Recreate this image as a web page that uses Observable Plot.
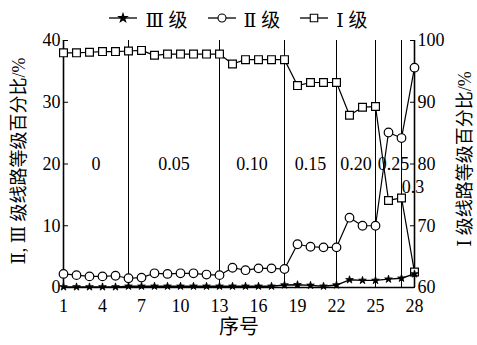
<!DOCTYPE html>
<html><head><meta charset="utf-8">
<script src="https://cdn.jsdelivr.net/npm/d3@7"></script>
<script src="https://cdn.jsdelivr.net/npm/@observablehq/plot@0.6"></script>
<style>
body{margin:0;background:#fff;}
#wrap{position:relative;width:477px;height:345px;font-family:"Liberation Serif","Times New Roman",Times,"DejaVu Serif",serif,"Noto Sans CJK SC";}
#legend{position:absolute;left:0;top:5px;width:477px;height:26px;display:flex;justify-content:center;align-items:center;font-size:19px;color:#000;}
.item{display:flex;align-items:center;margin:0 10px;}
.item svg{margin-right:8px;}
</style></head><body><div id="wrap"><div id="legend"></div><div id="chart"></div></div>
<script>
const ids = [1,2,3,4,5,6,7,8,9,10,11,12,13,14,15,16,17,18,19,20,21,22,23,24,25,26,27,28];
const gradeI = [98.0,98.0,98.1,98.2,98.2,98.3,98.4,97.6,97.8,97.8,97.8,97.8,97.8,96.2,96.9,96.9,96.9,96.9,92.7,93.2,93.2,93.2,87.9,89.2,89.3,74.1,74.5,62.5];
const gradeII = [2.2,2.0,1.8,1.8,1.9,1.5,1.6,2.3,2.2,2.3,2.3,2.1,2.0,3.2,2.8,3.1,3.1,3.0,7.0,6.6,6.5,6.5,11.3,10.0,10.0,25.1,24.2,35.6];
const gradeIII = [0.1,0.1,0.1,0.1,0.1,0.2,0.2,0.2,0.2,0.2,0.2,0.2,0.2,0.2,0.2,0.2,0.2,0.4,0.45,0.35,0.2,0.4,1.25,1.15,1.15,1.35,1.5,2.2];
const zoneBounds = [1,6,13,18,22,25,27,28];
const zoneLabels = ["0","0.05","0.10","0.15","0.20","0.25","0.3"];
const xTicks = [1,4,7,10,13,16,19,22,25,28];
const yTicks = [0,10,20,30,40];
const rightOffset = 60;
const legendNames = ["Ⅲ 级","Ⅱ 级","Ⅰ 级"];
const leftTitle = "Ⅱ, Ⅲ 级线路等级百分比/%";
const rightTitle = "Ⅰ 级线路等级百分比/%";
const xTitle = "序号";

const rows = ids.map((id,i)=>({id, I: gradeI[i] - rightOffset, II: gradeII[i], III: gradeIII[i]}));
const dividers = zoneBounds.slice(1, -1);
const zones = zoneLabels.map((t,i)=>({t, x:(zoneBounds[i]+zoneBounds[i+1])/2, idx:i}));
const font = '"Liberation Serif","Times New Roman",Times,"DejaVu Serif",serif,"Noto Sans CJK SC"';

const chart = Plot.plot({
  width:477, height:345, marginLeft:63, marginRight:63, marginTop:40, marginBottom:58,
  style:{fontFamily:font, fontSize:"17px", color:"#000", background:"#fff", overflow:"visible"},
  x:{domain:[1,28]}, y:{domain:[0,40]},
  marks:[
    Plot.ruleX(dividers,{stroke:"#000", strokeWidth:1}),
    Plot.ruleX([1,28],{stroke:"#000", strokeWidth:1.6}),
    Plot.ruleY([0],{stroke:"#000", strokeWidth:1.6}),
    Plot.axisX({ticks:xTicks, tickSize:-4, tickPadding:16, label:null, fontSize:18}),
    Plot.axisY({anchor:"left", ticks:yTicks, tickSize:-5, tickPadding:8, label:null, fontSize:18}),
    Plot.axisY({anchor:"right", ticks:yTicks, tickFormat:d=>d+rightOffset, tickSize:-5, tickPadding:8, label:null, fontSize:18}),
    Plot.text(zones.filter(d=>d.idx<5),{x:"x", y:20, text:"t", fontSize:18}),
    Plot.text(zones.filter(d=>d.idx===5),{x:"x", y:20, text:"t", fontSize:18, dx:5}),
    Plot.text(zones.filter(d=>d.idx===6),{x:"x", y:20, text:"t", fontSize:18, dx:5, dy:23}),
    Plot.line(rows,{x:"id", y:"I", stroke:"#000", strokeWidth:1.2}),
    Plot.dot(rows,{x:"id", y:"I", symbol:"square", r:4.4, fill:"#fff", stroke:"#000", strokeWidth:1.2}),
    Plot.line(rows,{x:"id", y:"II", stroke:"#000", strokeWidth:1.2}),
    Plot.dot(rows,{x:"id", y:"II", symbol:"circle", r:4.3, fill:"#fff", stroke:"#000", strokeWidth:1.2}),
    Plot.line(rows,{x:"id", y:"III", stroke:"#000", strokeWidth:1.4}),
    Plot.dot(rows,{x:"id", y:"III", symbol:"star", r:2.4, fill:"#000", stroke:"#000", strokeWidth:0.8}),
    Plot.text([leftTitle],{frameAnchor:"left", textAnchor:"middle", dx:-44, dy:-3, rotate:-90, fontSize:18}),
    Plot.text([rightTitle],{frameAnchor:"right", textAnchor:"middle", dx:51, dy:-5, rotate:-90, fontSize:18}),
    Plot.text([xTitle],{frameAnchor:"bottom", textAnchor:"middle", dy:46, fontSize:20})
  ]
});
document.getElementById("chart").appendChild(chart);

const symbols = [d3.symbolStar, d3.symbolCircle, d3.symbolSquare];
const sizes = [22, 50, 56];
const fills = ["#000","#fff","#fff"];
const legend = d3.select("#legend");
legendNames.forEach((name,i)=>{
  const it = legend.append("div").attr("class","item");
  const svg = it.append("svg").attr("width",28).attr("height",14);
  svg.append("line").attr("x1",0).attr("x2",28).attr("y1",7).attr("y2",7).attr("stroke","#000").attr("stroke-width",1.3);
  svg.append("path").attr("d", d3.symbol(symbols[i], sizes[i])()).attr("transform","translate(14,7)")
    .attr("fill",fills[i]).attr("stroke","#000").attr("stroke-width",1.1);
  it.append("span").text(name);
});
</script></body></html>
